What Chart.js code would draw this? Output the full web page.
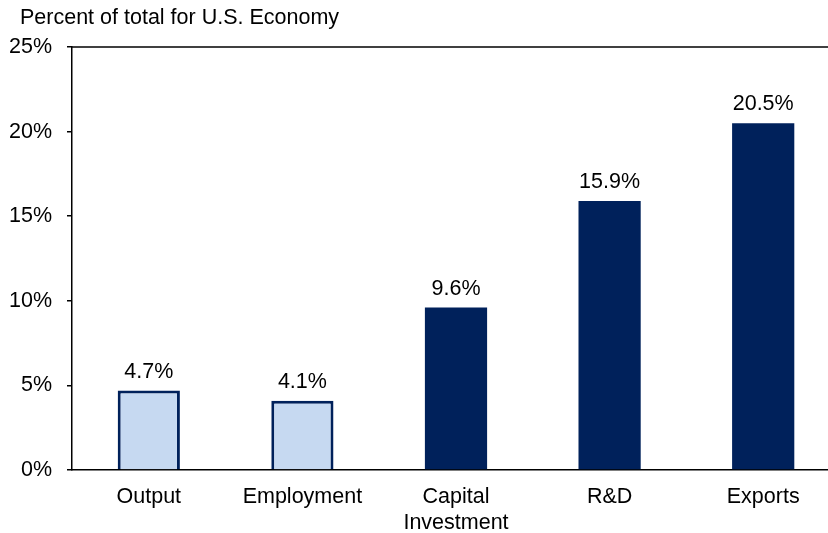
<!DOCTYPE html>
<html>
<head>
<meta charset="utf-8">
<script src="https://cdn.jsdelivr.net/npm/chart.js@4"></script>
<style>
html,body{margin:0;padding:0;background:#fff;overflow:hidden}
#wrap{width:828px;height:533px;overflow:hidden;position:relative}
canvas{display:block}
</style>
</head>
<body>
<div id="wrap"><canvas id="c" width="840" height="533"></canvas></div>
<script>
const categories=["Output","Employment",["Capital","Investment"],"R&D","Exports"];
const shares=[4.7,4.1,9.6,15.9,20.5];
const yTicks=[0,5,10,15,20,25];
const title="Percent of total for U.S. Economy";

const navy="#00215B", light="#C6D9F1";
const font="'Liberation Sans', Arial, sans-serif";
const fs=21.5;

const extras={
  id:"extras",
  afterDatasetsDraw(ch){
    const ctx=ch.ctx, a=ch.chartArea;
    ctx.save();
    // top frame line
    ctx.strokeStyle="#000";ctx.lineWidth=1.5;
    ctx.beginPath();ctx.moveTo(a.left,a.top);ctx.lineTo(a.right+20,a.top);ctx.stroke();
    // value labels
    ctx.fillStyle="#000";ctx.font=fs+"px "+font;ctx.textAlign="center";ctx.textBaseline="bottom";
    ch.getDatasetMeta(0).data.forEach((b,i)=>{
      ctx.fillText(shares[i].toFixed(1)+"%",b.x,b.y-8);
    });
    // title
    ctx.textAlign="left";ctx.textBaseline="middle";ctx.font=fs+"px "+font;
    ctx.fillText(title,20,18);
    ctx.restore();
  }
};

new Chart(document.getElementById("c"),{
  type:"bar",
  data:{labels:categories,datasets:[{
    data:shares,
    backgroundColor:shares.map((v,i)=>i<2?light:navy),
    borderColor:navy,
    borderWidth:shares.map((v,i)=>i<2?3:0),
    barPercentage:0.405,categoryPercentage:1
  }]},
  options:{
    responsive:false,animation:false,
    layout:{padding:{top:47,left:0,right:0,bottom:0}},
    plugins:{legend:{display:false},tooltip:{enabled:false}},
    scales:{
      x:{
        grid:{display:false,drawTicks:false},
        border:{display:true,color:"#000",width:1.5},
        ticks:{color:"#000",font:{family:font,size:fs},padding:14,maxRotation:0},
        afterFit:s=>{s.height=63}
      },
      y:{
        min:0,max:25,
        afterBuildTicks:s=>{s.ticks=yTicks.map(v=>({value:v}))},
        grid:{drawOnChartArea:false,drawTicks:true,tickLength:5,color:"#000",lineWidth:1.5},
        border:{display:true,color:"#000",width:1.5},
        ticks:{color:"#000",font:{family:font,size:fs},padding:15,callback:v=>v+"%"},
        afterFit:s=>{s.width=72}
      }
    }
  },
  plugins:[extras]
});
</script>
</body>
</html>
